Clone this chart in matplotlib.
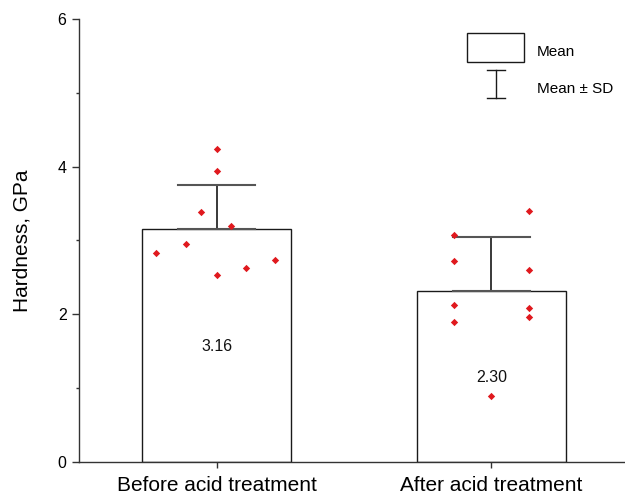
import matplotlib
matplotlib.use("Agg")
import matplotlib.pyplot as plt
import numpy as np

plt.rcParams['font.family'] = ['Liberation Sans', 'DejaVu Sans']

categories = ["Before acid treatment", "After acid treatment"]
means = [3.16, 2.31]
mean_labels = ["3.16", "2.30"]
sds = [0.59, 0.74]

before_offsets = [0.0, 0.0, -0.058, 0.051, -0.113, -0.222, 0.211, 0.105, 0.0]
before_values = [4.24, 3.94, 3.39, 3.20, 2.95, 2.83, 2.73, 2.63, 2.53]
after_offsets = [0.136, -0.136, -0.136, 0.136, -0.136, 0.136, -0.136, 0.136, 0.0]
after_values = [3.40, 3.07, 2.72, 2.60, 2.12, 2.08, 1.89, 1.96, 0.89]

label_y = [1.57, 1.14]

fig = plt.figure(figsize=(6.25, 4.94), dpi=100)
ax = fig.add_axes([0.1264, 0.0648, 0.8736, 0.8968])

x = np.array([1, 2])
width = 0.542
ax.bar(x, means, width=width, color='white', edgecolor='#1a1a1a', linewidth=1.0, zorder=1)

cap = 0.14
for xi, m, s in zip(x, means, sds):
    ax.plot([xi, xi], [m, m + s], color='#2a2a2a', lw=1.3, zorder=2)
    ax.plot([xi - cap, xi + cap], [m + s, m + s], color='#555555', lw=1.5, zorder=2)
    ax.plot([xi - cap, xi + cap], [m, m], color='#555555', lw=1.5, zorder=2)

pts_color = '#e0191e'
ax.scatter(1 + np.array(before_offsets), before_values, marker='D', s=14, color=pts_color, zorder=3, linewidths=0)
ax.scatter(2 + np.array(after_offsets), after_values, marker='D', s=14, color=pts_color, zorder=3, linewidths=0)

for xi, ly, lab in zip(x, label_y, mean_labels):
    ax.text(xi, ly, lab, ha='center', va='center', fontsize=11.5, color='#111111')

ax.set_xlim(0.498, 2.487)
ax.set_ylim(0, 6)
ax.set_yticks([0, 2, 4, 6])
ax.set_yticks([1, 3, 5], minor=True)
ax.set_xticks(x)
ax.set_xticklabels(categories, fontsize=15)
ax.tick_params(axis='y', which='major', length=5, width=1, labelsize=11.5, color='#333333', pad=4)
ax.tick_params(axis='y', which='minor', length=2.5, width=1, color='#333333')
ax.tick_params(axis='x', which='major', length=4, width=1, color='#333333', pad=6)
ax.set_ylabel("Hardness, GPa", fontsize=15, labelpad=19)

for sp in ['top', 'right']:
    ax.spines[sp].set_visible(False)
for sp in ['left', 'bottom']:
    ax.spines[sp].set_color('#333333')
    ax.spines[sp].set_linewidth(1.0)

from matplotlib.patches import Rectangle
ft = fig.transFigure
W, H = 625.0, 494.0
def fx(px): return px / W
def fy(py): return 1 - py / H
rect = Rectangle((fx(467), fy(62.3)), fx(524) - fx(467), fy(33.3) - fy(62.3),
                 transform=ft, facecolor='white', edgecolor='#1a1a1a', lw=1.0)
fig.patches.append(rect)
fig.text(fx(537), fy(52), "Mean", fontsize=11, va='center', ha='left')
xc = fx(495.7)
fig.lines.append(plt.Line2D([xc, xc], [fy(70), fy(98)], transform=ft, color='#1a1a1a', lw=1.0))
fig.lines.append(plt.Line2D([fx(486.7), fx(505)], [fy(70), fy(70)], transform=ft, color='#1a1a1a', lw=1.0))
fig.lines.append(plt.Line2D([fx(486.7), fx(505)], [fy(98), fy(98)], transform=ft, color='#1a1a1a', lw=1.0))
fig.text(fx(537), fy(89), "Mean \u00b1 SD", fontsize=11, va='center', ha='left')

fig.savefig("out.png", dpi=100)
